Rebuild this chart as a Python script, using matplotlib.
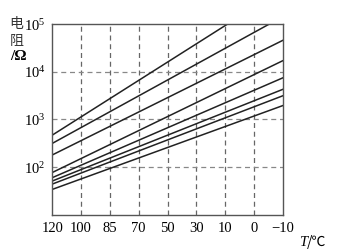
import numpy as np
import matplotlib
matplotlib.use('Agg')
from matplotlib import pyplot as plt

plt.rcParams['font.family'] = ['Liberation Serif', 'Noto Sans CJK SC', 'DejaVu Sans']
plt.rcParams['mathtext.fontset'] = 'custom'
plt.rcParams['mathtext.rm'] = 'Liberation Serif'
plt.rcParams['mathtext.it'] = 'Liberation Serif:italic'

temp_labels = ['120', '100', '85', '70', '50', '30', '10', '0', '\u221210']
# resistance (ohm) at the 120 and -10 ends of each line
r_hot = [470, 315, 180, 77, 60, 51, 44, 34]
r_cold = [550000, 145000, 46000, 17200, 7500, 4300, 3150, 1960]
y_ticks = [1e2, 1e3, 1e4, 1e5]
y_tick_labels = ['$10^2$', '$10^3$', '$10^4$', '$10^5$']

fig = plt.figure(figsize=(3.43, 2.49), dpi=100)
ax = fig.add_axes([0.1525, 0.1378, 0.672, 0.7646])

x_end = len(temp_labels) - 1
for lo, hi in zip(r_hot, r_cold):
    ax.plot([0, x_end], [lo, hi], color='#222222', lw=1.1)

ax.set_yscale('log')
ax.set_ylim(10, 1e5)
ax.set_xlim(0, x_end)

ax.set_xticks(range(len(temp_labels)))
ax.set_xticklabels(temp_labels, fontsize=10.5)
ax.set_yticks(y_ticks)
ax.set_yticklabels(y_tick_labels, fontsize=10.5)
ax.minorticks_off()
ax.tick_params(length=0, pad=5)

for i in range(1, x_end):
    ax.axvline(i, color='#666666', lw=0.9, ls=(0, (4, 3)), zorder=0)
for yv in y_ticks[:-1]:
    ax.axhline(yv, color='#888888', lw=0.9, ls=(0, (4, 3)), zorder=0)

for s in ax.spines.values():
    s.set_color('#555555')
    s.set_linewidth(1.0)

fig.text(16.5 / 343, 1 - 24 / 249, '电', ha='center', va='center', fontsize=10,
         family=['Noto Sans CJK SC'], color='#333333')
fig.text(16.5 / 343, 1 - 41 / 249, '阻', ha='center', va='center', fontsize=10,
         family=['Noto Sans CJK SC'], color='#333333')
fig.text(18 / 343, 1 - 57 / 249, '/\u03a9', ha='center', va='center', fontsize=11,
         fontweight='bold')
fig.text(307 / 343, 1 - 242 / 249, 'T', ha='right', va='center',
         fontsize=10.5, style='italic')
fig.text(307 / 343, 1 - 242 / 249, '/\u2103', ha='left', va='center',
         fontsize=10, family=['Noto Sans CJK SC'])

fig.savefig('out.png', dpi=100)
